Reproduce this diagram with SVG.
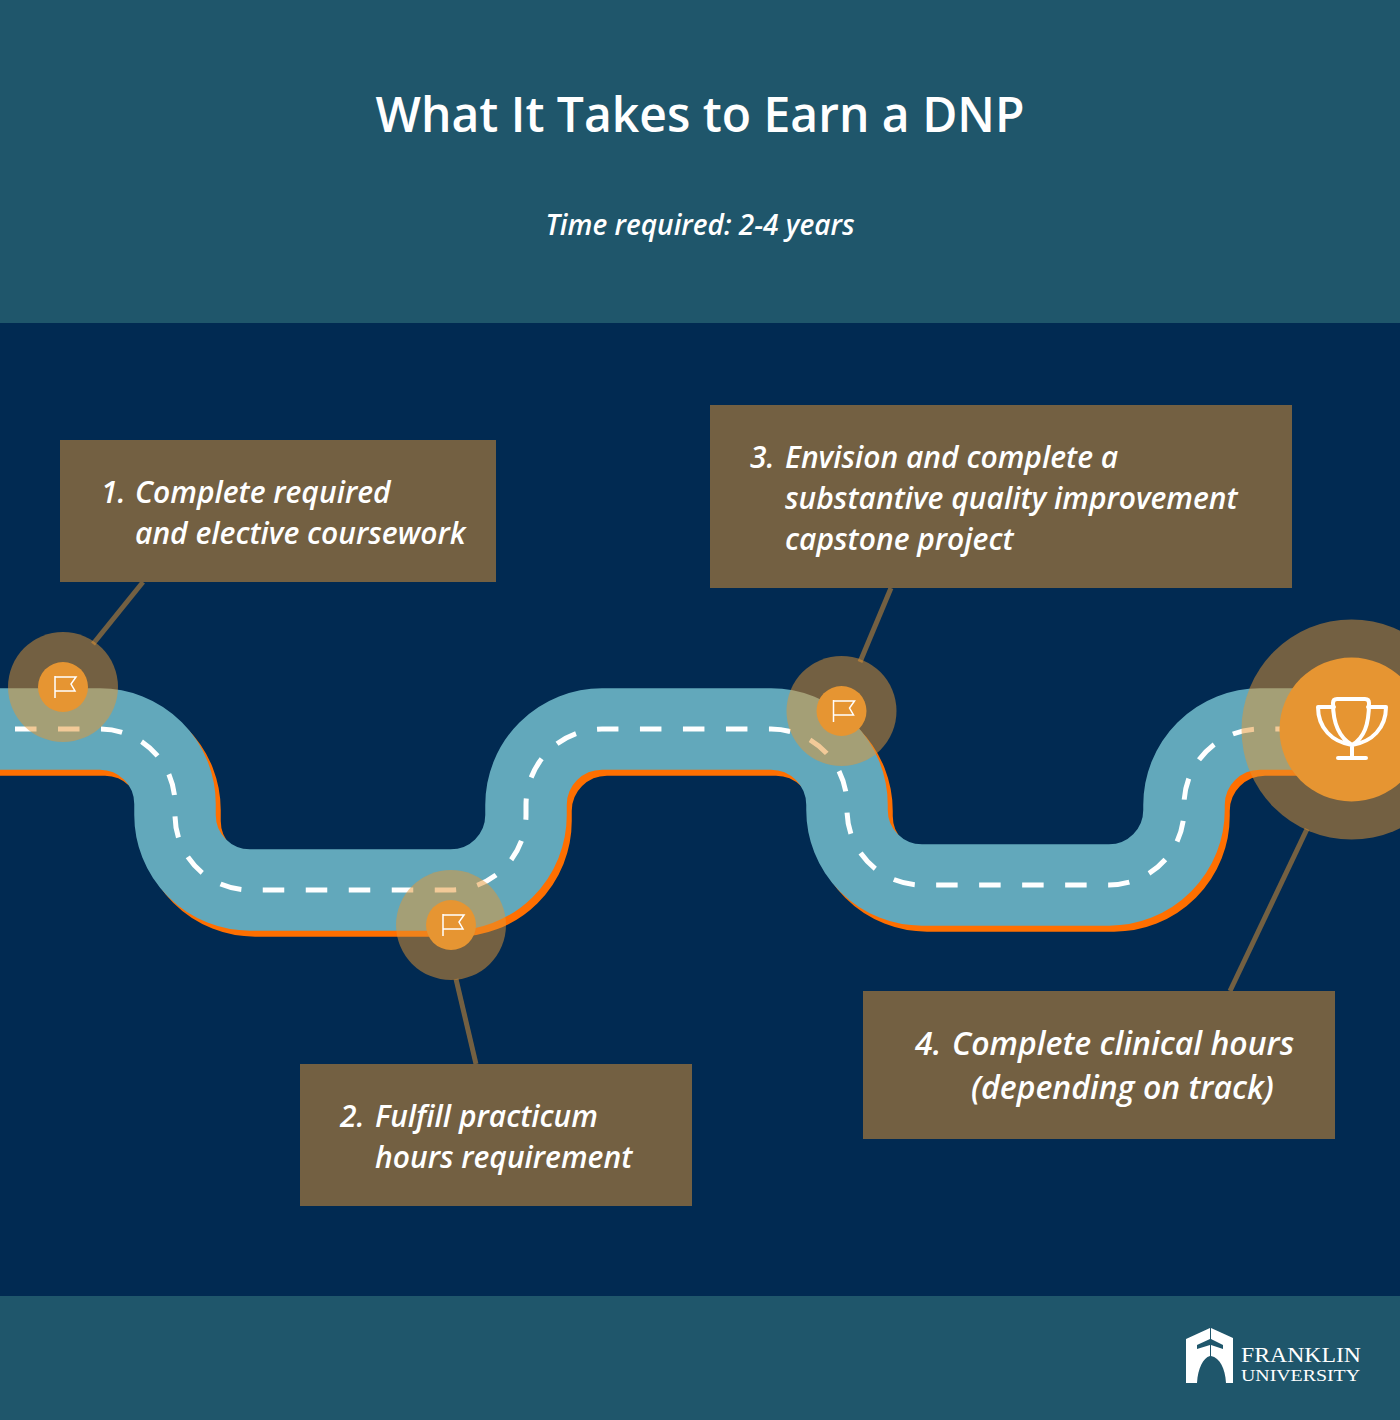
<svg xmlns="http://www.w3.org/2000/svg" width="1400" height="1420" viewBox="0 0 1400 1420">
<style>
.t{font-family:"Open Sans","Noto Sans",sans-serif;fill:#fff}
.s{font-size:30px;font-style:italic;font-weight:600}
.s4{font-size:32px;font-style:italic;font-weight:600}
.box{fill:#736042}
.halo{fill:#e69532;opacity:.5}
.core{fill:#e69532}
.lead{stroke:#736042;stroke-width:5;fill:none}
.road{fill:none;stroke-width:81.5}
.ic{fill:none;stroke:#fff;stroke-width:1.5}
.tr{fill:none;stroke:#fff;stroke-width:4;stroke-linecap:round;stroke-linejoin:round}
.logo{font-family:"Liberation Serif","Times New Roman",serif;fill:#fff}
</style>
<defs>
<path id="rp" d="M-20 729H100A75 75 0 0 1 175 804V815A75 75 0 0 0 250 890H450A75 75 0 0 0 526 815V805A76 76 0 0 1 602 729H771A76 76 0 0 1 847 805V810A75 75 0 0 0 922 885H1109A75 75 0 0 0 1184 810V805A76 76 0 0 1 1260 729H1420"/>
<g id="flag"><path class="ic" d="M-8-11V11M-8-10H13L8-3L12 4H-8"/></g>
</defs>
<rect width="1400" height="1420" fill="#1f566b"/>
<rect y="323" width="1400" height="973" fill="#012a52"/>
<text class="t" x="700" y="132" font-size="48" font-weight="600" text-anchor="middle">What It Takes to Earn a DNP</text>
<text class="t" x="700" y="234.500" font-size="28" font-style="italic" font-weight="600" text-anchor="middle">Time required: 2-4 years</text>
<g id="road">
<use href="#rp" class="road" stroke="#ff6f00" transform="translate(5 6)"/>
<use href="#rp" class="road" stroke="#62a8bb"/>
<path d="M15 729H100A75 75 0 0 1 175 804V815A75 75 0 0 0 250 890H450A75 75 0 0 0 526 815V805A76 76 0 0 1 602 729H771A76 76 0 0 1 847 805V810A75 75 0 0 0 922 885H1109A75 75 0 0 0 1184 810V805A76 76 0 0 1 1260 729H1300" fill="none" stroke="#fff" stroke-width="5" stroke-dasharray="21.5 21.5"/>
</g>
<g id="connectors">
<path class="lead" d="M143 582L93 644"/>
<path class="lead" d="M456 979L476 1064"/>
<path class="lead" d="M891 588L860 662"/>
<path class="lead" d="M1307 829L1230 991"/>
</g>
<g id="node-1">
<circle class="halo" cx="63" cy="687" r="55"/><circle class="core" cx="63" cy="687" r="25"/>
<use href="#flag" x="63" y="687"/>
<rect class="box" x="60" y="440" width="436" height="142"/>
<text class="t s" x="101" y="502.500">1.</text>
<text class="t s" x="135" y="502.500">Complete required</text>
<text class="t s" x="135" y="543.500">and elective coursework</text>
</g>
<g id="node-2">
<circle class="halo" cx="451" cy="925" r="55"/><circle class="core" cx="451" cy="925" r="25"/>
<use href="#flag" x="451" y="925"/>
<rect class="box" x="300" y="1064" width="392" height="142"/>
<text class="t s" x="340" y="1126.500">2.</text>
<text class="t s" x="375" y="1126.500">Fulfill practicum</text>
<text class="t s" x="375" y="1167.500">hours requirement</text>
</g>
<g id="node-3">
<circle class="halo" cx="841.500" cy="711" r="55"/><circle class="core" cx="841.500" cy="711" r="25"/>
<use href="#flag" x="841.500" y="711"/>
<rect class="box" x="710" y="405" width="582" height="183"/>
<text class="t s" x="750" y="467.500">3.</text>
<text class="t s" x="785" y="467.500">Envision and complete a</text>
<text class="t s" x="785" y="508.500">substantive quality improvement</text>
<text class="t s" x="785" y="549.500">capstone project</text>
</g>
<g id="node-4">
<circle class="halo" cx="1351.500" cy="729.500" r="110"/><circle class="core" cx="1351.500" cy="729.500" r="72"/>
<path class="tr" d="M1337 699H1365Q1369 699 1369 703C1369 725 1364 738 1352 745C1340 738 1333 725 1333 703Q1333 699 1337 699ZM1334 707H1318C1318 728 1332 742 1352 745C1372 742 1386 728 1386 707H1368M1352 745V758M1338 758H1366"/>
<rect class="box" x="863" y="991" width="472" height="148"/>
<text class="t s4" x="915" y="1055">4.</text>
<text class="t s4" x="952" y="1055">Complete clinical hours</text>
<text class="t s4" x="971" y="1099">(depending on track)</text>
</g>
<g id="logo">
<path fill="#fff" d="M1186 1339L1210 1328V1339L1197 1345V1349L1210 1345V1356C1203 1358 1198 1368 1197 1383H1186ZM1211 1328L1233 1338V1383H1226C1225 1368 1220 1358 1211 1356V1345L1223 1349V1345L1211 1339Z"/>
<text class="logo" x="1241" y="1362" font-size="21" textLength="120" lengthAdjust="spacingAndGlyphs">FRANKLIN</text>
<text class="logo" x="1241" y="1381" font-size="16.5" textLength="119" lengthAdjust="spacingAndGlyphs">UNIVERSITY</text>
</g>
</svg>
